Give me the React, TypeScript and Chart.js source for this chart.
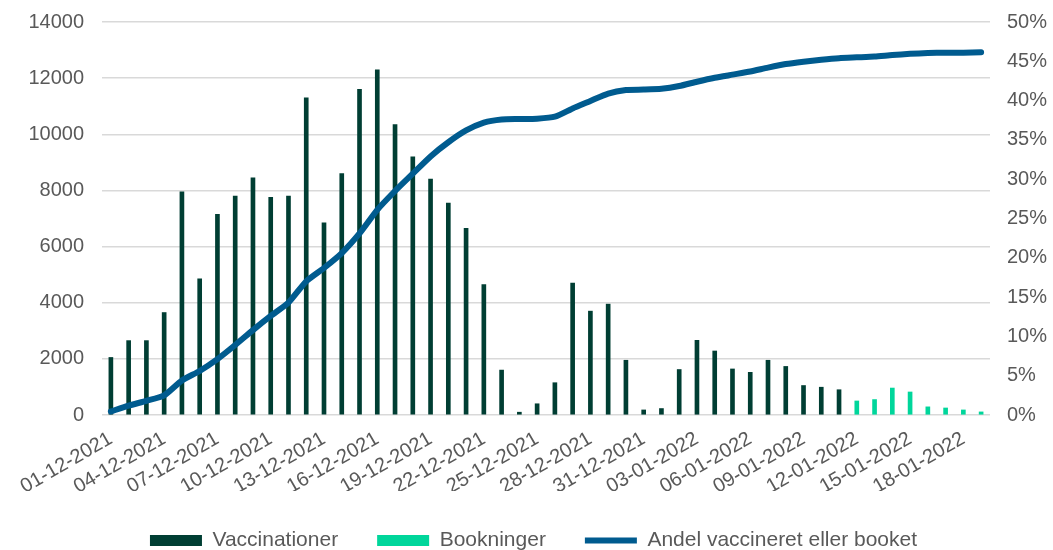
import React, { useEffect, useRef } from 'react';
import { Chart, registerables } from 'chart.js';

Chart.register(...registerables);

const categories = [
  '01-12-2021', '02-12-2021', '03-12-2021', '04-12-2021', '05-12-2021', '06-12-2021', '07-12-2021',
  '08-12-2021', '09-12-2021', '10-12-2021', '11-12-2021', '12-12-2021', '13-12-2021', '14-12-2021',
  '15-12-2021', '16-12-2021', '17-12-2021', '18-12-2021', '19-12-2021', '20-12-2021', '21-12-2021',
  '22-12-2021', '23-12-2021', '24-12-2021', '25-12-2021', '26-12-2021', '27-12-2021', '28-12-2021',
  '29-12-2021', '30-12-2021', '31-12-2021', '01-01-2022', '02-01-2022', '03-01-2022', '04-01-2022',
  '05-01-2022', '06-01-2022', '07-01-2022', '08-01-2022', '09-01-2022', '10-01-2022', '11-01-2022',
  '12-01-2022', '13-01-2022', '14-01-2022', '15-01-2022', '16-01-2022', '17-01-2022', '18-01-2022',
  '19-01-2022',
];

const tickLabels = [
  '01-12-2021', '04-12-2021', '07-12-2021', '10-12-2021', '13-12-2021', '16-12-2021', '19-12-2021',
  '22-12-2021', '25-12-2021', '28-12-2021', '31-12-2021', '03-01-2022', '06-01-2022', '09-01-2022',
  '12-01-2022', '15-01-2022', '18-01-2022',
];

// Vaccinationer: 01-12-2021 .. 11-01-2022
const vaccinationer = [
  2050, 2650, 2650, 3650, 7950, 4850, 7150, 7800, 8450, 7750, 7800, 11300, 6850, 8600,
  11600, 12300, 10350, 9200, 8400, 7550, 6650, 4650, 1600, 100, 400, 1150, 4700, 3700,
  3950, 1950, 180, 230, 1620, 2660, 2280, 1640, 1520, 1950, 1730, 1050, 990, 900,
];

// Bookninger: 12-01-2022 .. 19-01-2022
const bookninger = [500, 550, 960, 820, 290, 250, 180, 110];

// Andel vaccineret eller booket (%)
const andel = [
  0.45, 1.2, 1.8, 2.5, 4.4, 5.6, 7.1, 8.9, 10.8, 12.6, 14.3, 17.0, 18.7, 20.6, 23.1, 26.1,
  28.5, 30.7, 32.9, 34.7, 36.2, 37.2, 37.6, 37.65, 37.7, 37.95, 39.0, 39.95, 40.9, 41.35,
  41.4, 41.5, 41.85, 42.4, 42.9, 43.3, 43.7, 44.2, 44.65, 44.95, 45.2, 45.4, 45.5, 45.6,
  45.8, 45.95, 46.05, 46.1, 46.1, 46.15,
];

const FONT = "'Liberation Sans', Arial, sans-serif";
const TEXT = '#595959';

const legendShift = {
  id: 'legendShift',
  afterLayout(chart: any) {
    if (chart.legend) {
      chart.legend.left += 7;
      chart.legend.right += 7;
    }
  },
};

export default function App() {
  const ref = useRef<HTMLCanvasElement | null>(null);

  useEffect(() => {
    if (!ref.current) return;
    const offset = categories.length - bookninger.length;
    const vaccData = categories.map((_, i) => (i < vaccinationer.length ? vaccinationer[i] : null));
    const bookData = categories.map((_, i) => (i >= offset ? bookninger[i - offset] : null));

    const chart = new Chart(ref.current, {
      type: 'bar',
      data: {
        labels: categories,
        datasets: [
          {
            type: 'bar',
            label: 'Vaccinationer',
            data: vaccData,
            backgroundColor: '#003E33',
            borderWidth: 0,
            barThickness: 4,
            grouped: false,
            yAxisID: 'y',
            pointStyle: 'rect',
            order: 1,
          } as any,
          {
            type: 'bar',
            label: 'Bookninger',
            data: bookData,
            backgroundColor: '#00D69B',
            borderWidth: 0,
            barThickness: 4,
            grouped: false,
            yAxisID: 'y',
            pointStyle: 'rect',
            order: 1,
          } as any,
          {
            type: 'line',
            label: 'Andel vaccineret eller booket',
            data: andel,
            borderColor: '#005B8F',
            backgroundColor: '#005B8F',
            borderWidth: 6,
            borderCapStyle: 'round',
            borderJoinStyle: 'round',
            pointRadius: 0,
            pointHoverRadius: 0,
            pointStyle: 'line',
            tension: 0.2,
            fill: false,
            yAxisID: 'y1',
            order: 0,
          } as any,
        ],
      },
      plugins: [legendShift],
      options: {
        responsive: false,
        animation: false,
        layout: { padding: { top: 22, left: 0, right: 0, bottom: 0 } },
        plugins: {
          tooltip: { enabled: false },
          legend: {
            position: 'bottom',
            labels: {
              usePointStyle: true,
              pointStyleWidth: 52,
              boxHeight: 11,
              padding: 39,
              color: TEXT,
              font: { family: FONT, size: 21 },
              sort: (a: any, b: any) => a.datasetIndex - b.datasetIndex,
            },
          },
        },
        scales: {
          x: {
            type: 'category',
            offset: true,
            grid: { display: false, drawTicks: false },
            border: { display: false },
            ticks: {
              autoSkip: false,
              minRotation: 30,
              maxRotation: 30,
              padding: 12,
              color: TEXT,
              font: { family: FONT, size: 20 },
              callback: (_v: any, i: number) => (tickLabels.includes(categories[i]) ? categories[i] : ''),
            },
            afterFit: (s: any) => {
              s.height = 76;
            },
          },
          y: {
            position: 'left',
            min: 0,
            max: 14000,
            ticks: {
              stepSize: 2000,
              padding: 18,
              color: TEXT,
              font: { family: FONT, size: 20 },
              callback: (v: any) => String(v),
            },
            grid: { color: '#D9D9D9', lineWidth: 1.5, drawTicks: false },
            border: { display: false },
            afterFit: (s: any) => {
              s.width = 102;
              s.paddingTop = 0;
              s.paddingBottom = 0;
            },
          },
          y1: {
            position: 'right',
            min: 0,
            max: 50,
            ticks: {
              stepSize: 5,
              padding: 17,
              color: TEXT,
              font: { family: FONT, size: 20 },
              callback: (v: any) => v + '%',
            },
            grid: { display: false, drawTicks: false },
            border: { display: false },
            afterFit: (s: any) => {
              s.width = 63;
              s.paddingTop = 0;
              s.paddingBottom = 0;
            },
          },
        },
      },
    });
    return () => chart.destroy();
  }, []);

  return (
    <div
      style={{
        position: 'fixed',
        left: 0,
        top: 0,
        width: 1053,
        height: 550,
        overflow: 'hidden',
        background: '#fff',
      }}
    >
      <canvas ref={ref} width={1053} height={561} style={{ display: 'block' }} />
    </div>
  );
}
